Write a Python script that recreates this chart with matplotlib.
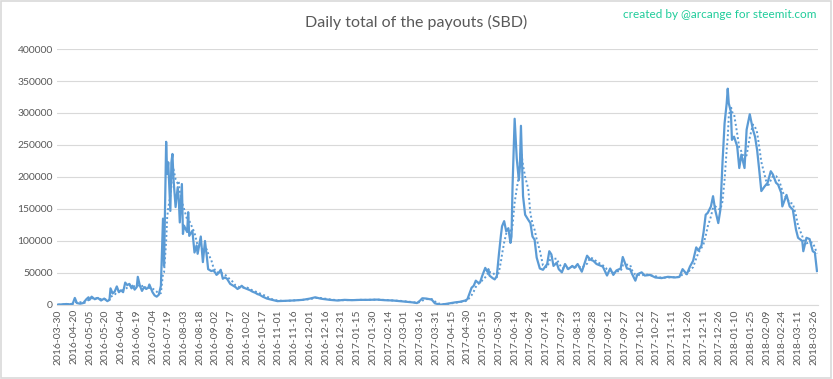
import numpy as np
import pandas as pd
import matplotlib
matplotlib.use("Agg")
import matplotlib.pyplot as plt
from matplotlib.patches import Rectangle

# day index (category position) and payout in thousands of SBD
days = [0, 4, 8, 11, 14, 16, 18, 21, 24, 27, 29, 30, 32, 35, 38, 41, 44, 47, 49, 50,
        52, 54, 56, 58, 60, 62, 64, 66, 68, 70, 71, 73, 75, 76, 78, 80, 82, 84, 86, 87,
        89, 90, 92, 94, 96, 98, 100, 101, 103, 104, 105, 107, 108, 109, 110, 112, 114, 115, 116, 118,
        119, 120, 123, 124, 125, 128, 130, 132, 133, 136, 138, 140, 142, 143, 146, 148, 150, 151, 153, 155,
        157, 159, 161, 164, 166, 169, 171, 173, 175, 177, 180, 183, 185, 188, 190, 192, 195, 199, 204, 209,
        216, 224, 233, 240, 245, 250, 252, 259, 266, 273, 280, 288, 295, 304, 311, 319, 326, 332, 338, 342,
        345, 347, 351, 356, 359, 364, 369, 373, 378, 383, 388, 390, 392, 394, 396, 398, 400, 402, 404, 407,
        409, 410, 411, 414, 416, 418, 420, 422, 423, 425, 427, 429, 431, 432, 433, 435, 437, 439, 440, 441,
        443, 445, 448, 450, 452, 454, 456, 459, 462, 466, 468, 470, 472, 475, 477, 480, 483, 486, 490, 492,
        495, 499, 504, 507, 510, 513, 516, 519, 523, 526, 529, 532, 536, 538, 542, 545, 547, 550, 552, 556,
        559, 564, 569, 575, 581, 588, 592, 595, 599, 602, 605, 608, 610, 613, 615, 617, 619, 622, 624, 626,
        629, 631, 633, 635, 637, 638, 639, 641, 642, 644, 647, 649, 651, 654, 656, 659, 662, 664, 666, 668,
        670, 673, 676, 679, 681, 684, 686, 689, 690, 694, 697, 700, 703, 705, 709, 710, 713, 716, 719, 721,
        723]
payout_k = [0.5, 1, 1.5, 1, 2, 11, 3, 2, 3, 9, 12, 8, 13, 9, 11, 7, 10, 6, 8, 26,
            18, 21, 29, 20, 23, 20, 35, 31, 33, 26, 30, 24, 28, 44, 30, 22, 28, 25, 27, 32,
            24, 20, 15, 13, 16, 30, 135, 61, 255, 205, 223, 147, 223, 236, 197, 153, 184, 166, 129, 189,
            111, 124, 114, 145, 108, 116, 82, 93, 80, 107, 67, 100, 72, 56, 53, 54, 50, 47, 50, 55,
            41, 43, 41, 33, 31, 28, 25, 27, 30, 27, 25, 23, 21, 19, 17, 16, 13, 10, 8, 6,
            6.5, 7, 8, 10, 12, 10, 9.5, 8, 7, 8, 7.5, 8, 8, 8.4, 7.5, 7, 6, 5, 4, 3,
            7, 10.5, 10, 8.4, 2.6, 0.5, 1.5, 2.6, 4, 5, 7, 9, 18, 27, 30, 38, 35, 35, 45, 58,
            52, 56, 46, 42, 40, 45, 79, 110, 123, 131, 115, 120, 97, 107, 185, 291, 229, 195, 216, 280,
            170, 141, 133, 128, 107, 102, 74, 57, 55, 64, 84, 79, 61, 66, 56, 51, 64, 56, 61, 58,
            64, 52, 77, 71, 69, 64, 62, 60, 46, 57, 47, 54, 57, 75, 57, 56, 48, 38, 48, 51,
            46, 47, 43, 42, 44, 43, 44, 56, 48, 60, 69, 90, 85, 93, 114, 141, 144, 154, 170, 149,
            128, 149, 222, 284, 315, 338, 315, 302, 258, 263, 248, 214, 235, 214, 274, 298, 274, 263, 242, 211,
            178, 185, 191, 209, 204, 191, 188, 175, 154, 172, 154, 149, 118, 105, 100, 84, 105, 103, 84, 82,
            53]

tick_labels = ["2016-03-30", "2016-04-20", "2016-05-05", "2016-05-20", "2016-06-04", "2016-06-19",
               "2016-07-04", "2016-07-19", "2016-08-03", "2016-08-18", "2016-09-02", "2016-09-17",
               "2016-10-02", "2016-10-17", "2016-11-01", "2016-11-16", "2016-12-01", "2016-12-16",
               "2016-12-31", "2017-01-15", "2017-01-30", "2017-02-14", "2017-03-01", "2017-03-16",
               "2017-03-31", "2017-04-15", "2017-04-30", "2017-05-15", "2017-05-30", "2017-06-14",
               "2017-06-29", "2017-07-14", "2017-07-29", "2017-08-13", "2017-08-28", "2017-09-12",
               "2017-09-27", "2017-10-12", "2017-10-27", "2017-11-11", "2017-11-26", "2017-12-11",
               "2017-12-26", "2018-01-10", "2018-01-25", "2018-02-09", "2018-02-24", "2018-03-11",
               "2018-03-26"]

blue = "#5b9bd5"
grey = "#595959"

s = pd.Series(np.array(payout_k) * 1000, index=pd.to_timedelta(days, unit="D"))
trend = s.rolling("8D").mean()

fig = plt.figure(figsize=(8.33, 3.79), dpi=100)
fig.patches.append(Rectangle((0.001, 0.002), 0.997, 0.995, transform=fig.transFigure,
                             fill=False, edgecolor="#d9d9d9", linewidth=1.2))
ax = fig.add_axes([0.0684, 0.1953, 0.9136, 0.6754])

ax.plot(days, s.values, color=blue, linewidth=1.6, zorder=3)
ax.plot(days, trend.values, color=blue, linewidth=1.4, linestyle=(0, (1, 1.3)), zorder=2)

ax.set_xlim(-1, 724)
ax.set_ylim(0, 400000)
ax.set_yticks(np.arange(0, 400001, 50000))
ax.set_yticklabels([str(v) for v in range(0, 400001, 50000)])
ax.set_xticks(np.arange(len(tick_labels)) * 15)
ax.set_xticklabels(tick_labels, rotation=90)
ax.grid(axis="y", color="#d9d9d9", linewidth=0.8)
ax.set_axisbelow(True)
for side in ["top", "right", "left"]:
    ax.spines[side].set_visible(False)
ax.spines["bottom"].set_color("#d9d9d9")
ax.tick_params(length=0, labelsize=7.5, labelcolor=grey, pad=3)
for lab in ax.get_xticklabels() + ax.get_yticklabels():
    lab.set_fontfamily("Lato")

fig.text(0.5, 0.94, "Daily total of the payouts (SBD)", ha="center", va="center",
         fontsize=11.5, color=grey, family="Lato")
fig.text(0.98, 0.962, "created by @arcange for steemit.com", ha="right", va="center",
         fontsize=8.5, color="#1fcc9a", family="Lato")

fig.savefig("out.png", dpi=100)
